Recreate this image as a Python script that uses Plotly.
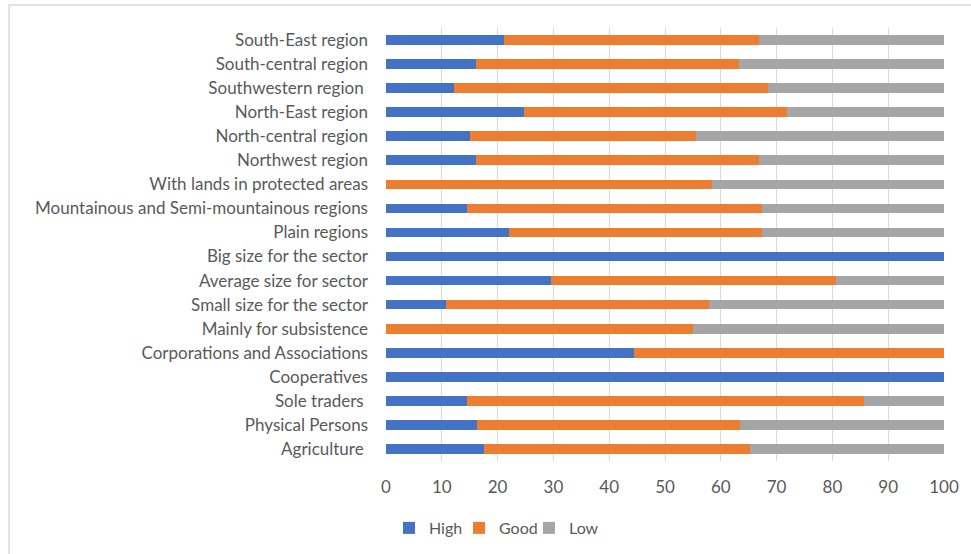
import plotly.graph_objects as go

categories = [
    "Agriculture\u00a0", "Physical Persons", "Sole traders\u00a0", "Cooperatives",
    "Corporations and Associations", "Mainly for subsistence",
    "Small size for the sector", "Average size for sector", "Big size for the sector",
    "Plain regions", "Mountainous and Semi-mountainous regions",
    "With lands in protected areas", "Northwest region", "North-central region",
    "North-East region", "Southwestern region\u00a0", "South-central region", "South-East region",
]
high = [17.6, 16.3, 14.5, 100.0, 44.4, 0.0, 10.7, 29.6, 100.0,
        22.1, 14.5, 0.0, 16.1, 15.1, 24.7, 12.2, 16.1, 21.1]
good = [47.7, 47.2, 71.2, 0.0, 55.6, 55.1, 47.2, 51.0, 0.0,
        45.2, 52.8, 58.4, 50.8, 40.5, 47.1, 56.2, 47.2, 45.8]
low = [round(100 - h - g, 1) for h, g in zip(high, good)]

series = [("High", high, "#4472C4"), ("Good", good, "#ED7D31"), ("Low", low, "#A5A5A5")]
x_ticks = list(range(0, 101, 10))

fig = go.Figure()
for name, vals, col in series:
    fig.add_trace(go.Bar(y=categories, x=vals, name=name, orientation="h",
                         marker=dict(color=col, line=dict(width=0))))

W, H = 971, 554
L, R, T, B = 386, 27, 28, 93
pw, ph = W - L - R, H - T - B

fig.update_layout(
    width=W, height=H, barmode="stack", bargap=0.6,
    margin=dict(l=L, r=R, t=T, b=B, autoexpand=False),
    paper_bgcolor="white", plot_bgcolor="white",
    font=dict(family="Lato, Carlito, Calibri, sans-serif", size=17, color="#595959"),
    xaxis=dict(range=[0, 100], tickvals=x_ticks, showgrid=True, gridcolor="#D9D9D9",
               gridwidth=1, zeroline=False, showline=False, ticks="",
               tickfont=dict(size=17, color="#595959"), ticklabelstandoff=14, fixedrange=True),
    yaxis=dict(type="category", categoryorder="array", categoryarray=categories,
               showgrid=False, zeroline=False, showline=False, ticks="",
               tickfont=dict(size=17, color="#595959"), ticklabelstandoff=17),
    legend=dict(orientation="h", x=(389 - L) / pw, xanchor="left",
                y=(H - B - 528) / ph, yanchor="middle",
                font=dict(size=16, color="#595959"), traceorder="normal",
                itemwidth=30, entrywidth=25, bgcolor="rgba(0,0,0,0)"),
    showlegend=True,
)

# chart border (outer frame)
fig.add_shape(type="rect", xref="paper", yref="paper",
              x0=(9 - L) / pw, x1=(985 - L) / pw,
              y0=(H - B - 570) / ph, y1=(H - B - 5) / ph,
              line=dict(color="#D9D9D9", width=1.5), fillcolor="rgba(0,0,0,0)", layer="below")

fig.write_html("out.html")
